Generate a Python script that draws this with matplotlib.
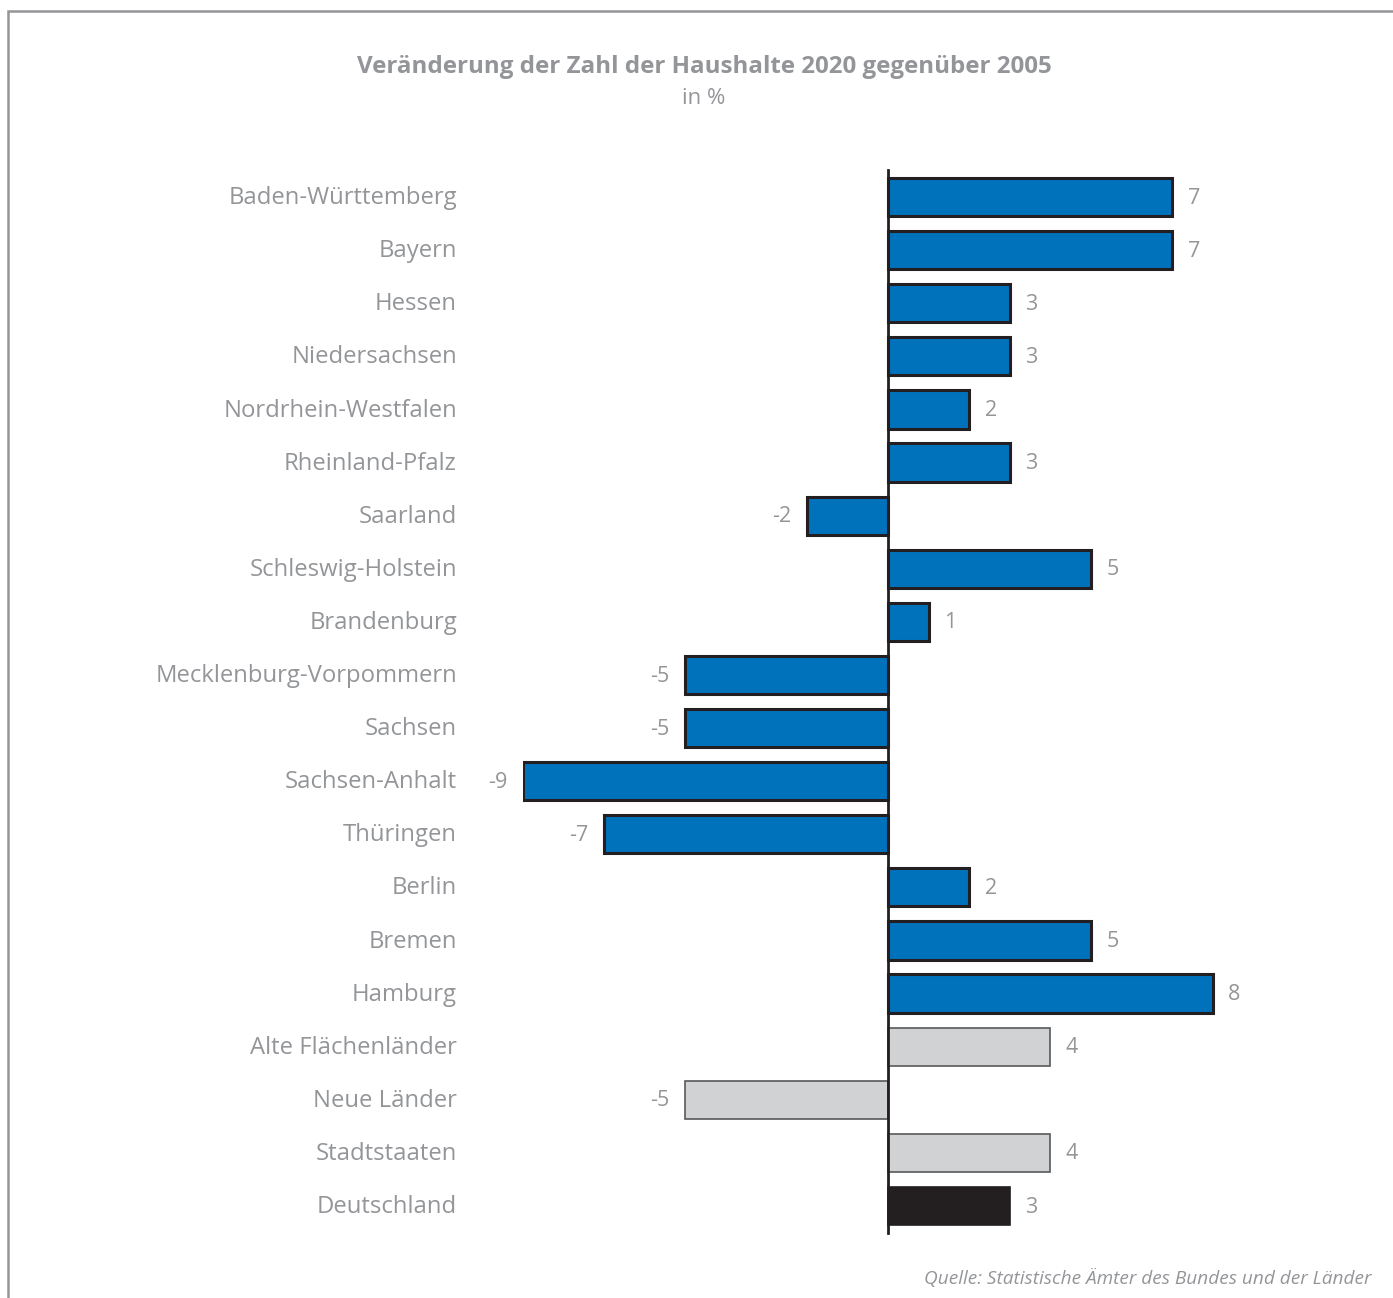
import matplotlib.pyplot as plt
import matplotlib.transforms as mtransforms
from matplotlib.patches import Rectangle

# data
laender = ['Baden-Württemberg', 'Bayern', 'Hessen', 'Niedersachsen',
           'Nordrhein-Westfalen', 'Rheinland-Pfalz', 'Saarland',
           'Schleswig-Holstein', 'Brandenburg', 'Mecklenburg-Vorpommern',
           'Sachsen', 'Sachsen-Anhalt', 'Thüringen', 'Berlin', 'Bremen',
           'Hamburg', 'Alte Flächenländer', 'Neue Länder', 'Stadtstaaten',
           'Deutschland']
werte = [7, 7, 3, 3, 2, 3, -2, 5, 1, -5, -5, -9, -7, 2, 5, 8, 4, -5, 4, 3]
gruppe = ['land'] * 16 + ['summe'] * 3 + ['gesamt']

blau = '#0072bc'
hellgrau = '#d1d2d4'
schwarz = '#231f20'
textgrau = '#939598'

plt.rcParams['font.family'] = ['Open Sans', 'DejaVu Sans']

W, H = 1393, 1298
fig = plt.figure(figsize=(W / 100, H / 100), dpi=100)

# grey frame (top + left)
fig.patches.append(Rectangle((8 / W, -0.05), 1.2, 1 - 11 / H + 0.05,
                             transform=fig.transFigure, fill=False,
                             edgecolor='#939598', linewidth=1.8))

unit = 40.6
y0, y1 = 170.5, 1232.5
ax = fig.add_axes([(888 - 9 * unit) / W, 1 - y1 / H, 19 * unit / W, (y1 - y0) / H])
ax.set_xlim(-9, 10)
ax.set_ylim(len(laender) - 0.5, -0.5)
ax.axis('off')

for i, (v, g) in enumerate(zip(werte, gruppe)):
    if g == 'land':
        ax.barh(i, v, height=0.72, color=blau, edgecolor=schwarz, linewidth=2.2)
    elif g == 'summe':
        ax.barh(i, v, height=0.72, color=hellgrau, edgecolor='#58595b', linewidth=1.2)
    else:
        ax.barh(i, v, height=0.72, color=schwarz, edgecolor=schwarz, linewidth=1.2)
    off = 0.38
    if v >= 0:
        ax.text(v + off, i + 0.02, str(v), ha='left', va='center', fontsize=15.5, color=textgrau)
    else:
        ax.text(v - off, i + 0.02, str(v), ha='right', va='center', fontsize=15.5, color=textgrau)

ax.plot([0, 0], [-0.5, len(laender) - 0.5], color=schwarz, linewidth=2, clip_on=False)

trans = mtransforms.blended_transform_factory(fig.transFigure, ax.transData)
for i, name in enumerate(laender):
    ax.text(457 / W, i + 0.02, name, transform=trans, ha='right', va='center',
            fontsize=17.2, color=textgrau)

fig.text(704 / W, 1 - 67 / H, 'Veränderung der Zahl der Haushalte 2020 gegenüber 2005',
         ha='center', va='center', fontsize=17.4, fontweight='bold', color=textgrau)
fig.text(704 / W, 1 - 98 / H, 'in %', ha='center', va='center', fontsize=16, color=textgrau)
fig.text(1372 / W, 1 - 1278 / H, 'Quelle: Statistische Ämter des Bundes und der Länder',
         ha='right', va='center', fontsize=13.7, style='italic', color=textgrau)

plt.savefig('out.png', dpi=100)
